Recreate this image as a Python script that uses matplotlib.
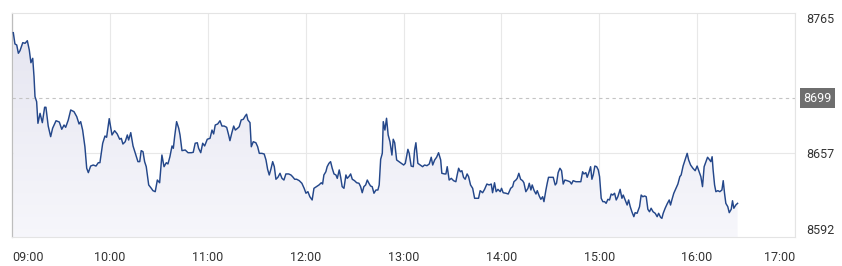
import matplotlib
matplotlib.use("Agg")
import matplotlib.pyplot as plt
import matplotlib.dates as mdates
import numpy as np
import pandas as pd

# minutes after 09:00 and index level
minutes = [
    0.8, 1.8, 2.9, 3.9, 4.9, 6.6, 8.0, 9.4, 10.6, 11.6, 12.7, 13.5, 14.1, 15.1, 15.9,
    17.2, 18.6, 20.0, 20.8, 22.2, 23.7, 24.9, 27.0, 29.0, 30.5, 31.9, 32.9, 34.5, 36.0,
    38.0, 39.7, 41.1, 42.1, 43.3, 44.7, 45.8, 46.8, 48.2, 49.8, 51.5, 52.9, 53.9, 55.6,
    57.0, 58.0, 59.6, 61.3, 62.9, 64.5, 66.0, 67.0, 68.0, 69.4, 70.7, 71.5, 72.8, 74.2,
    75.6, 77.2, 78.3, 79.2, 80.3, 81.3, 82.3, 83.8, 85.4, 86.4, 87.8, 89.1, 90.5, 91.9,
    93.2, 94.6, 95.6, 96.8, 98.1, 98.9, 99.7, 100.9, 102.2, 103.0, 104.2, 106.2, 107.9,
    109.9, 111.1, 112.3, 113.6, 114.4, 115.7, 116.9, 118.1, 119.7, 121.4, 122.6, 123.6,
    124.6, 126.1, 127.5, 128.7, 130.1, 131.6, 132.8, 133.6, 134.8, 135.9, 136.9, 138.3,
    139.3, 140.5, 141.8, 143.0, 143.8, 144.6, 145.9, 146.7, 147.9, 149.5, 150.6, 151.6,
    153.2, 154.6, 155.7, 156.7, 157.7, 158.7, 159.8, 160.8, 161.8, 163.0, 164.3, 165.5,
    166.7, 167.9, 169.6, 171.0, 172.0, 173.3, 174.5, 176.1, 177.7, 179.1, 180.2, 181.4,
    182.6, 184.0, 185.1, 186.7, 188.2, 189.6, 190.4, 191.2, 192.4, 193.2, 194.3, 195.3,
    196.3, 197.4, 198.6, 199.4, 200.6, 201.5, 202.4, 203.5, 204.7, 205.5, 206.5, 207.6,
    208.6, 210.0, 211.3, 212.7, 213.7, 214.7, 215.7, 216.8, 217.8, 218.8, 219.8, 220.8,
    221.9, 223.1, 224.3, 225.1, 226.0, 227.0, 227.6, 228.6, 229.6, 230.6, 231.7, 232.9,
    233.7, 234.6, 235.8, 237.2, 238.6, 240.1, 241.1, 242.7, 243.5, 244.7, 246.0, 246.8,
    247.6, 248.8, 250.2, 251.7, 252.9, 254.4, 255.8, 257.0, 257.9, 259.1, 260.3, 261.5,
    262.8, 263.5, 265.2, 266.0, 266.8, 268.0, 269.3, 270.7, 272.1, 272.9, 273.8, 274.8,
    275.8, 276.8, 277.8, 279.0, 279.9, 281.1, 282.4, 283.6, 285.0, 286.0, 287.0, 288.5,
    289.7, 291.1, 292.5, 293.8, 294.6, 295.8, 296.8, 297.9, 299.3, 300.1, 301.1, 302.8,
    304.2, 305.7, 306.9, 307.7, 308.9, 309.7, 310.7, 311.8, 313.0, 313.8, 315.0, 316.3,
    317.1, 318.1, 318.9, 320.1, 321.2, 322.0, 323.2, 324.2, 325.3, 326.1, 327.3, 328.1,
    328.9, 330.2, 331.8, 333.0, 333.8, 334.8, 335.9, 336.9, 337.9, 338.9, 340.3, 342.0,
    343.0, 344.0, 345.7, 347.1, 348.7, 349.8, 350.6, 351.8, 352.6, 353.8, 354.7, 355.5,
    356.3, 357.3, 358.4, 359.4, 360.2, 361.2, 362.2, 363.3, 364.2, 365.3, 366.3, 367.3,
    368.3, 369.4, 370.4, 371.4, 372.8, 373.9, 374.7, 375.9, 377.1, 378.0, 379.0, 380.0,
    381.2, 382.0, 383.2, 384.7, 385.7, 386.7, 387.8, 388.8, 389.8, 390.8, 391.8, 393.0,
    394.3, 395.5, 396.4, 397.6, 398.4, 399.2, 400.4, 401.6, 402.9, 403.7, 404.5, 405.7,
    407.0, 408.2, 409.4, 410.2, 411.4, 412.7, 413.9, 414.8, 416.0, 417.4, 418.8, 420.0,
    421.2, 422.3, 423.3, 424.3, 425.4, 426.4, 427.4, 428.4, 429.2, 429.8, 430.7, 431.5,
    432.7, 433.9, 435.2, 436.0, 436.8, 437.6, 438.8, 439.7, 440.9, 441.7, 442.5, 443.7,
    444.8,
]
levels = [
    8749.8, 8741.1, 8740.3, 8733.9, 8735.9, 8742.1, 8741.6, 8743.6, 8736.4, 8726.6, 8730.0,
    8715.8, 8700.4, 8696.5, 8679.8, 8687.5, 8680.3, 8692.2, 8692.2, 8677.7, 8669.5, 8676.0,
    8681.8, 8680.8, 8675.2, 8678.5, 8676.7, 8682.4, 8690.1, 8688.8, 8684.9, 8679.3, 8681.1,
    8674.6, 8661.7, 8645.1, 8641.7, 8646.8, 8647.6, 8646.8, 8649.4, 8649.4, 8664.4, 8670.0,
    8669.0, 8683.4, 8670.8, 8674.1, 8671.6, 8667.5, 8668.2, 8663.8, 8665.6, 8670.8, 8666.9,
    8672.6, 8662.3, 8656.6, 8650.2, 8650.2, 8658.7, 8657.9, 8650.2, 8646.3, 8632.2, 8629.6,
    8627.8, 8627.0, 8636.0, 8633.9, 8655.3, 8646.3, 8649.4, 8648.4, 8654.0, 8662.3, 8660.5,
    8669.5, 8681.1, 8676.0, 8670.8, 8658.7, 8659.2, 8657.1, 8657.1, 8657.4, 8664.4, 8664.8,
    8660.5, 8657.1, 8664.4, 8662.3, 8667.5, 8668.2, 8674.6, 8671.6, 8678.5, 8679.3, 8681.8,
    8677.7, 8677.7, 8676.7, 8670.8, 8666.4, 8672.6, 8677.7, 8674.6, 8676.0, 8677.2, 8682.4,
    8682.9, 8685.5, 8686.8, 8682.4, 8680.3, 8661.7, 8665.6, 8664.8, 8661.7, 8656.6, 8656.6,
    8656.1, 8651.5, 8644.3, 8639.9, 8644.3, 8650.2, 8646.3, 8636.6, 8638.1, 8641.2, 8637.3,
    8636.0, 8640.7, 8640.7, 8639.9, 8638.6, 8636.6, 8636.6, 8635.5, 8633.5, 8629.6, 8625.8,
    8627.0, 8623.1, 8620.6, 8629.6, 8630.9, 8632.2, 8633.9, 8632.9, 8639.9, 8642.4, 8646.3,
    8648.9, 8650.2, 8645.1, 8640.7, 8639.9, 8637.3, 8643.8, 8638.1, 8630.9, 8629.6, 8639.9,
    8637.3, 8638.6, 8640.7, 8636.6, 8635.5, 8633.9, 8633.5, 8630.9, 8626.2, 8630.9, 8632.2,
    8636.0, 8633.5, 8631.4, 8630.9, 8625.8, 8628.3, 8628.3, 8632.2, 8652.0, 8656.6, 8681.1,
    8674.6, 8683.7, 8670.8, 8665.6, 8655.3, 8667.5, 8664.8, 8651.5, 8650.2, 8648.9, 8647.6,
    8648.9, 8659.7, 8656.6, 8646.8, 8646.3, 8659.2, 8664.8, 8648.9, 8647.6, 8646.3, 8647.6,
    8647.1, 8648.4, 8653.6, 8647.6, 8651.5, 8653.6, 8657.1, 8651.5, 8641.2, 8640.7, 8640.7,
    8646.3, 8636.0, 8637.3, 8635.5, 8634.7, 8639.9, 8645.1, 8642.4, 8643.2, 8638.1, 8636.6,
    8640.7, 8638.6, 8632.2, 8629.6, 8621.9, 8621.9, 8621.9, 8627.8, 8626.2, 8628.8, 8632.9,
    8632.2, 8632.9, 8626.2, 8633.9, 8627.0, 8628.8, 8627.0, 8629.6, 8626.2, 8625.8, 8625.2,
    8629.6, 8630.9, 8634.7, 8636.0, 8637.3, 8641.2, 8636.6, 8635.5, 8633.9, 8627.0, 8629.6,
    8633.5, 8628.3, 8632.2, 8627.8, 8625.2, 8627.8, 8623.7, 8621.1, 8623.1, 8619.3, 8628.3,
    8633.5, 8638.1, 8638.1, 8638.1, 8632.2, 8633.5, 8641.7, 8645.1, 8643.2, 8632.9, 8636.0,
    8635.5, 8634.7, 8632.9, 8635.5, 8634.7, 8634.7, 8634.7, 8642.4, 8640.7, 8641.7, 8638.1,
    8642.4, 8646.3, 8636.6, 8639.9, 8646.8, 8646.3, 8643.8, 8638.6, 8621.9, 8619.3, 8619.3,
    8618.0, 8621.1, 8620.6, 8625.2, 8624.4, 8625.8, 8620.6, 8623.1, 8628.8, 8621.9, 8624.4,
    8620.6, 8616.7, 8620.6, 8615.4, 8611.5, 8607.7, 8610.8, 8610.3, 8615.4, 8624.4, 8623.1,
    8623.7, 8623.1, 8613.4, 8611.5, 8614.2, 8611.5, 8610.3, 8607.7, 8610.3, 8607.2, 8606.4,
    8610.3, 8614.2, 8617.5, 8620.6, 8616.7, 8620.6, 8625.8, 8629.6, 8632.9, 8638.6, 8639.9,
    8646.8, 8652.0, 8656.6, 8651.5, 8647.6, 8645.1, 8643.2, 8646.8, 8642.4, 8638.6, 8630.9,
    8646.3, 8650.2, 8653.6, 8652.0, 8650.2, 8654.0, 8643.8, 8632.2, 8627.0, 8627.8, 8627.0,
    8628.3, 8635.5, 8625.8, 8618.0, 8615.4, 8610.8, 8613.4, 8620.0, 8614.2, 8616.7, 8618.0,
]

prev_close = 8699
y_min, y_max = 8592, 8765
y_ticks = [8592, 8657, 8765]
x_hours = ["09:00", "10:00", "11:00", "12:00", "13:00", "14:00", "15:00", "16:00", "17:00"]

day = pd.Timestamp("2024-01-02")
times = day + pd.Timedelta(hours=9) + pd.to_timedelta(minutes, unit="min")
hour_ticks = [day + pd.Timedelta(hours=int(h[:2])) for h in x_hours]

plt.rcParams["font.family"] = ["Roboto", "DejaVu Sans"]

fig = plt.figure(figsize=(8.42, 2.66), dpi=100)
ax = fig.add_axes([12 / 842, 29 / 266, 783 / 842, 224 / 266])

ax.plot(times, levels, color="#24478a", lw=1.05, zorder=3)

# soft vertical gradient under the line, clipped to the area below it
fill = ax.fill_between(times, levels, y_min, color="none", lw=0)
base = np.array([0.967, 0.967, 0.985])
top = np.array([0.895, 0.895, 0.94])
t = np.linspace(0, 1, 256)
img = np.zeros((256, 1, 3))
for i in range(3):
    img[:, 0, i] = base[i] + (top[i] - base[i]) * t
x0 = mdates.date2num(hour_ticks[0])
x1 = mdates.date2num(hour_ticks[-1])
im = ax.imshow(img, extent=[x0, x1, y_min, y_max], origin="lower", aspect="auto", zorder=2)
im.set_clip_path(fill.get_paths()[0], transform=ax.transData)

ax.axhline(prev_close, color="#c4c4c4", lw=0.8, ls=(0, (3, 3)), zorder=2)

ax.set_xlim(hour_ticks[0], hour_ticks[-1])
ax.set_ylim(y_min, y_max)

ax.set_xticks(hour_ticks)
ax.set_xticklabels(x_hours)
ax.grid(axis="x", color="#e8e8e8", lw=0.8)
ax.axhline(8657, color="#e8e8e8", lw=0.8, zorder=1)
ax.tick_params(axis="x", length=0, pad=10, labelsize=9, labelcolor="#333333")
xt = ax.get_xticklabels()
xt[0].set_ha("left")
xt[-1].set_ha("right")

ax.yaxis.tick_right()
ax.set_yticks(y_ticks)
ax.set_yticklabels([str(v) for v in y_ticks])
ax.tick_params(axis="y", length=0, pad=8, labelsize=9, labelcolor="#333333")
yt = ax.get_yticklabels()
yt[0].set_va("bottom")
yt[-1].set_va("top")

ax.text(1.0 + 8 / 783, prev_close, str(prev_close), transform=ax.get_yaxis_transform(),
        ha="left", va="center", fontsize=9, color="white",
        bbox=dict(boxstyle="square,pad=0.28", fc="#6e6e6e", ec="none"))

for side in ["top", "right", "bottom"]:
    ax.spines[side].set_color("#e4e4e4")
    ax.spines[side].set_linewidth(0.8)
ax.spines["left"].set_color("#bdbdbd")
ax.spines["left"].set_linewidth(0.9)
ax.set_axisbelow(True)

fig.savefig("out.png", dpi=100)
